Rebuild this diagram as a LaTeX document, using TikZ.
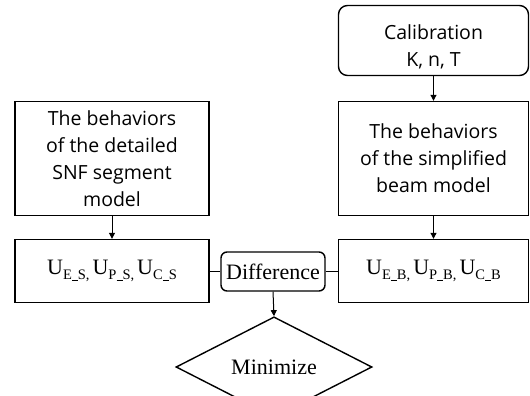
\documentclass[tikz,border=0pt]{standalone}
\usepackage{fontspec}
\setmainfont{Liberation Serif}
\newfontfamily\sansf{Open Sans}
\usetikzlibrary{shapes.geometric,arrows.meta}
\newcommand{\us}{\rule[-1.2pt]{6pt}{0.7pt}}
\newcommand{\subtxt}[1]{{\fontsize{14.5}{14}\selectfont\raisebox{-4.5pt}{#1}}}
\newcommand{\gap}{\hspace{3pt}}
\begin{document}
\begin{tikzpicture}[x=1pt,y=-1pt,
  box/.style={draw,line width=1.4pt,inner sep=0pt,align=center},
  sbox/.style={box,font=\sansf\fontsize{19.5}{27}\selectfont},
  ubox/.style={box,font=\fontsize{22}{24}\selectfont},
  arr/.style={line width=1pt,-{Triangle[length=6pt,width=6pt]}},
  conn/.style={line width=1pt}]
\useasboundingbox (0,0) rectangle (530,396);
\node[sbox,rounded corners=9pt,minimum width=190pt,minimum height=70pt] (cal) at (433.5,40.5) {\rule{0pt}{27pt}Calibration\\K, n, T};
\node[sbox,minimum width=194pt,minimum height=114pt] (lt) at (112,158.5) {The behaviors\\of the detailed\\SNF segment\\model};
\node[sbox,minimum width=190pt,minimum height=114pt] (rt) at (433.5,158.5) {The behaviors\\of the simplified\\beam model};
\node[ubox,minimum width=194pt,minimum height=63pt] (lu) at (112,271) {U\subtxt{E\us S,}\gap U\subtxt{P\us S,}\gap U\subtxt{C\us S}};
\node[ubox,minimum width=190pt,minimum height=63pt] (ru) at (433.5,271) {U\subtxt{E\us B,}\gap U\subtxt{P\us B,}\gap U\subtxt{C\us B}};
\node[ubox,rounded corners=6pt,minimum width=104pt,minimum height=39pt] (diff) at (273,271.5) {Difference};
\node[ubox,shape=diamond,minimum width=196pt,minimum height=66pt] (min) at (274,367) {Minimize};
\draw[arr] (cal.south) -- (rt.north);
\draw[arr] (lt.south) -- (lu.north);
\draw[arr] (rt.south) -- (ru.north);
\draw[arr] (diff.south) -- (min.north);
\draw[conn] (lu.east |- diff.west) -- (diff.west);
\draw[conn] (diff.east) -- (ru.west |- diff.east);
\end{tikzpicture}
\end{document}
